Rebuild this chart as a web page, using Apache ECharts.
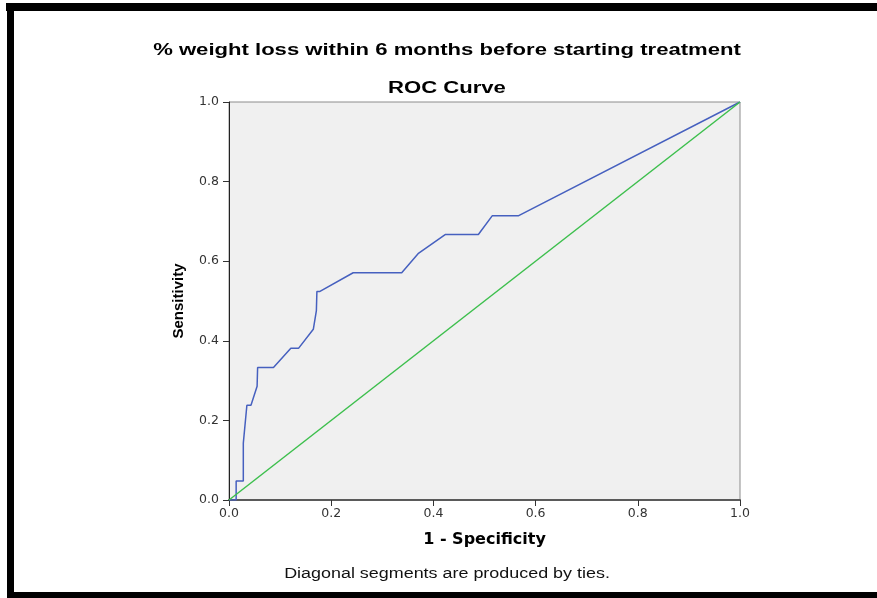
<!DOCTYPE html>
<html>
<head>
<meta charset="utf-8">
<script src="https://cdn.jsdelivr.net/npm/echarts@6/dist/echarts.min.js"></script>
<style>
  html, body { margin: 0; padding: 0; background: #ffffff; }
  #chart { width: 877px; height: 598px; }
</style>
</head>
<body>
<div id="chart"></div>
<script>
// ROC curve points: false positive rate (1 - specificity) and sensitivity
const fpr = [0, 0.014, 0.014, 0.028, 0.028, 0.035, 0.043, 0.055, 0.056, 0.087, 0.121, 0.136, 0.165, 0.171, 0.172, 0.178, 0.243, 0.338, 0.370, 0.423, 0.488, 0.515, 0.566, 1];
const tpr = [0, 0, 0.048, 0.048, 0.143, 0.238, 0.238, 0.286, 0.333, 0.333, 0.381, 0.381, 0.429, 0.476, 0.524, 0.524, 0.571, 0.571, 0.619, 0.667, 0.667, 0.714, 0.714, 1];
// chance reference line
const refX = [0, 1];
const refY = [0, 1];

const mainTitle = '% weight loss within 6 months before starting treatment';
const subTitle = 'ROC Curve';
const xName = '1 - Specificity';
const yName = 'Sensitivity';
const footNote = 'Diagonal segments are produced by ties.';

const FONT = '"Liberation Sans", Arial, sans-serif';
const WIDE = '"DejaVu Sans", sans-serif';

const chart = echarts.init(document.getElementById('chart'), null, { renderer: 'canvas' });

const rocData = fpr.map((x, i) => [x, tpr[i]]);
const refData = refX.map((x, i) => [x, refY[i]]);

const axisCommon = {
  type: 'value',
  min: 0,
  max: 1,
  interval: 0.2,
  splitLine: { show: false },
  axisTick: { show: true, length: 6, lineStyle: { color: '#333', width: 1 } },
  axisLabel: {
    color: '#333',
    fontFamily: WIDE,
    fontSize: 12.5,
    formatter: v => v.toFixed(1)
  }
};

chart.setOption({
  backgroundColor: '#ffffff',
  animation: false,
  grid: {
    left: 229, right: 137, top: 102, bottom: 98,
    show: true,
    backgroundColor: '#f0f0f0',
    borderColor: '#8c8c8c',
    borderWidth: 1
  },
  xAxis: Object.assign({}, axisCommon, {
    axisLine: { show: true, onZero: false, lineStyle: { color: '#5a5a5a', width: 2 } },
    axisLabel: Object.assign({}, axisCommon.axisLabel, { margin: 7 }),
    name: xName,
    nameLocation: 'middle',
    nameGap: 32,
    nameTextStyle: { fontFamily: WIDE, fontWeight: 'bold', fontSize: 16, color: '#000' }
  }),
  yAxis: Object.assign({}, axisCommon, {
    axisLine: { show: true, onZero: false, lineStyle: { color: '#222', width: 1 } },
    axisLabel: Object.assign({}, axisCommon.axisLabel, { margin: 10 }),
    name: yName,
    nameLocation: 'middle',
    nameGap: 43,
    nameTextStyle: { fontFamily: FONT, fontWeight: 'bold', fontSize: 15, color: '#000' }
  }),
  series: [
    {
      type: 'line',
      data: rocData,
      showSymbol: false,
      symbol: 'none',
      lineStyle: { color: '#4660bf', width: 1.5 },
      z: 2
    },
    {
      type: 'line',
      data: refData,
      showSymbol: false,
      symbol: 'none',
      lineStyle: { color: '#3dbf4d', width: 1.5 },
      z: 3
    }
  ],
  graphic: [
    // page frame
    { type: 'rect', shape: { x: 6, y: 3, width: 871, height: 8 }, style: { fill: '#000' }, z: 10 },
    { type: 'rect', shape: { x: 7, y: 3, width: 7, height: 595 }, style: { fill: '#000' }, z: 10 },
    { type: 'rect', shape: { x: 7, y: 592, width: 870, height: 6 }, style: { fill: '#000' }, z: 10 },
    // titles, drawn slightly widened
    {
      type: 'text', x: 447, y: 51, scaleX: 1.38,
      style: { text: mainTitle, fill: '#000', font: 'bold 16px ' + FONT, textAlign: 'center', textVerticalAlign: 'middle' }
    },
    {
      type: 'text', x: 447, y: 89, scaleX: 1.38,
      style: { text: subTitle, fill: '#000', font: 'bold 16px ' + FONT, textAlign: 'center', textVerticalAlign: 'middle' }
    },
    {
      type: 'text', x: 447, y: 574, scaleX: 1.28,
      style: { text: footNote, fill: '#111', font: '14px ' + FONT, textAlign: 'center', textVerticalAlign: 'middle' }
    }
  ]
});
</script>
</body>
</html>
